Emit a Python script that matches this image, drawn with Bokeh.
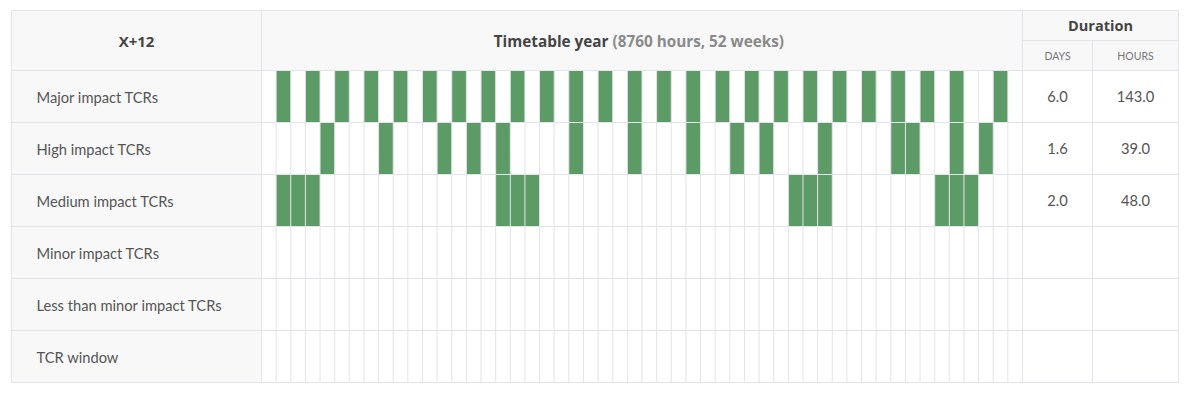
from bokeh.plotting import figure
from bokeh.models import Range1d
from bokeh.core.properties import value
from bokeh.embed import file_html
from bokeh.resources import INLINE

# ---------------- data ----------------
row_labels = ["Major impact TCRs", "High impact TCRs", "Medium impact TCRs",
              "Minor impact TCRs", "Less than minor impact TCRs", "TCR window"]
n_weeks = 52
major_weeks = [1, 3, 5, 7, 9, 11, 13, 15, 17, 19, 21, 23, 25, 27, 29, 31, 33,
               35, 37, 39, 41, 43, 45, 47, 50]
high_weeks = [4, 8, 12, 14, 16, 21, 25, 29, 32, 34, 38, 43, 44, 47, 49]
medium_weeks = [1, 2, 3, 16, 17, 18, 36, 37, 38, 46, 47, 48]
minor_weeks = []
less_minor_weeks = []
window_weeks = []
duration_days = ["6.0", "1.6", "2.0", "", "", ""]
duration_hours = ["143.0", "39.0", "48.0", "", "", ""]
title_left = "X+12"
title_main = "Timetable year"
title_sub = "(8760 hours, 52 weeks)"
title_duration = "Duration"
sub_days = "DAYS"
sub_hours = "HOURS"

# ---------------- layout (pixel geometry -> data units) ----------------
W, H = 1185, 390
PX0, PY0 = 0, 0                  # page offset of the figure
TT_L, TT_R = 261, 1022           # timetable pixel extent
S = (TT_R - TT_L) / n_weeks      # px per week
ROW_TOP, ROW_H = 70, 52

def xd(px):
    return (px - TT_L) / S

def yd(py):
    return (py - ROW_TOP) / ROW_H

X_LEFT, X_RIGHT = xd(11), xd(1178)
X_DH = xd(1092)
Y_TOP, Y_MID = yd(10), yd(40)
n_rows = len(row_labels)

GREEN = "#5c9a66"
LINE = "#e3e3ea"
PANEL = "#f8f8f8"
FONT = value("Lato")
HFONT = value("Open Sans")

p = figure(width=W, height=H, output_backend="svg", toolbar_location=None,
           x_range=Range1d(xd(PX0), xd(PX0 + W)),
           y_range=Range1d(yd(PY0 + H), yd(PY0)),
           x_axis_location=None, y_axis_location=None,
           min_border=0, outline_line_color=None,
           background_fill_color="white", border_fill_color="white")
p.grid.visible = False

# panels
p.quad(left=[X_LEFT, X_LEFT], right=[0, X_RIGHT], top=[Y_TOP, Y_TOP],
       bottom=[n_rows, 0], fill_color=PANEL, line_color=None)

# green cells
all_weeks = [major_weeks, high_weeks, medium_weeks, minor_weeks,
             less_minor_weeks, window_weeks]
cx, cy = [], []
for r, wk in enumerate(all_weeks):
    for w in wk:
        cx.append(w + 0.5)
        cy.append(r + 0.5)
p.rect(x=cx, y=cy, width=1, height=1, fill_color=GREEN, line_color=None)

# week grid lines
wx = list(range(1, n_weeks))
p.segment(x0=wx, y0=[0] * len(wx), x1=wx, y1=[n_rows] * len(wx),
          line_color=LINE, line_width=1)
# horizontal lines
hy = list(range(0, n_rows + 1))
p.segment(x0=[X_LEFT] * len(hy), y0=hy, x1=[X_RIGHT] * len(hy), y1=hy,
          line_color=LINE, line_width=1)
# column separators & borders
p.segment(x0=[X_LEFT, 0, n_weeks, X_RIGHT, X_DH, X_LEFT, n_weeks],
          y0=[Y_TOP, Y_TOP, Y_TOP, Y_TOP, Y_MID, Y_TOP, Y_MID],
          x1=[X_LEFT, 0, n_weeks, X_RIGHT, X_DH, X_RIGHT, X_RIGHT],
          y1=[n_rows, n_rows, n_rows, n_rows, n_rows, Y_TOP, Y_MID],
          line_color=LINE, line_width=1)

# row labels
p.text(x=[xd(36)] * n_rows, y=[r + 0.5 for r in range(n_rows)], text=row_labels,
       text_font=FONT, text_font_size=value("14.7px"), text_color="#555555",
       text_align="left", text_baseline="middle")

# durations
days_x = (n_weeks + X_DH) / 2
hours_x = (X_DH + X_RIGHT) / 2
p.text(x=[days_x] * n_rows, y=[r + 0.5 for r in range(n_rows)], text=duration_days,
       text_font=FONT, text_font_size=value("14.7px"), text_color="#555555",
       text_align="center", text_baseline="middle")
p.text(x=[hours_x] * n_rows, y=[r + 0.5 for r in range(n_rows)], text=duration_hours,
       text_font=FONT, text_font_size=value("14.7px"), text_color="#555555",
       text_align="center", text_baseline="middle")

# headers
hdr_y = (Y_TOP + 0) / 2
p.text(x=[(X_LEFT + 0) / 2], y=[hdr_y], text=[title_left], text_font=HFONT,
       text_font_size=value("15px"), text_font_style="bold", text_color="#444444",
       text_align="center", text_baseline="middle")
p.text(x=[xd(608)], y=[hdr_y], text=[title_main], text_font=HFONT,
       text_font_size=value("15.3px"), text_font_style="bold", text_color="#444444",
       text_align="right", text_baseline="middle")
p.text(x=[xd(612)], y=[hdr_y], text=[title_sub], text_font=HFONT,
       text_font_size=value("15.3px"), text_font_style="bold", text_color="#8a8a8a",
       text_align="left", text_baseline="middle")
p.text(x=[(n_weeks + X_RIGHT) / 2], y=[(Y_TOP + Y_MID) / 2], text=[title_duration],
       text_font=HFONT, text_font_size=value("14.5px"), text_font_style="bold",
       text_color="#444444", text_align="center", text_baseline="middle")
p.text(x=[days_x, hours_x], y=[Y_MID / 2, Y_MID / 2], text=[sub_days, sub_hours],
       text_font=FONT, text_font_size=value("10.5px"), text_color="#777777",
       text_align="center", text_baseline="middle")

open("out.html", "w").write(file_html(p, INLINE))
